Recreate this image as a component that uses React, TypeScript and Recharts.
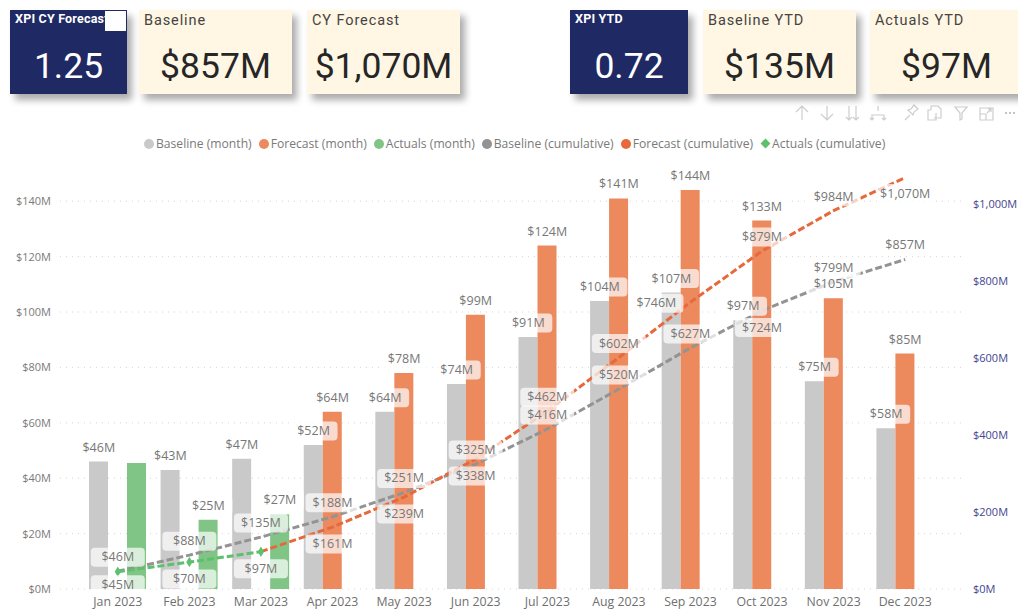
import {
  Bar,
  CartesianGrid,
  ComposedChart,
  LabelList,
  Line,
  Symbols,
  XAxis,
  YAxis,
} from "recharts";

const months = ["Jan 2023", "Feb 2023", "Mar 2023", "Apr 2023", "May 2023", "Jun 2023", "Jul 2023", "Aug 2023", "Sep 2023", "Oct 2023", "Nov 2023", "Dec 2023"];
const baselineMonth = [46, 43, 47, 52, 64, 74, 91, 104, 107, 97, 75, 58];
const forecastMonth = [null, null, null, 64, 78, 99, 124, 141, 144, 133, 105, 85];
const actualsMonth = [45.5, 25, 27, null, null, null, null, null, null, null, null, null];
const baselineCum = [46, 88, 135, 188, 251, 325, 416, 520, 627, 724, 799, 857];
const forecastCum = [null, null, 97, 161, 239, 338, 462, 602, 746, 879, 984, 1070];
const actualsCum = [45, 70, 97, null, null, null, null, null, null, null, null, null];

const leftTicks = [0, 20, 40, 60, 80, 100, 120, 140];
const rightTicks = [0, 200, 400, 600, 800, 1000];

const data = months.map((month, i) => ({
  month,
  baselineMonth: baselineMonth[i],
  forecastMonth: forecastMonth[i],
  actualsMonth: actualsMonth[i],
  baselineCum: baselineCum[i],
  forecastCum: forecastCum[i],
  actualsCum: actualsCum[i],
}));

const FONT = "'Open Sans', sans-serif";
const GRAY_BAR = "#c9c9c9";
const ORANGE_BAR = "#ec8a5e";
const GREEN_BAR = "#80c586";
const GRAY_LINE = "#939393";
const ORANGE_LINE = "#e7683a";
const GREEN_LINE = "#5cc06c";
const SLOT = 19;

const legendItems = [
  { name: "Baseline (month)", color: GRAY_BAR },
  { name: "Forecast (month)", color: ORANGE_BAR },
  { name: "Actuals (month)", color: GREEN_BAR },
  { name: "Baseline (cumulative)", color: GRAY_LINE },
  { name: "Forecast (cumulative)", color: ORANGE_LINE },
  { name: "Actuals (cumulative)", color: GREEN_LINE, diamond: true },
];

const formatMoney = (v: number) => `$${v.toLocaleString("en-US")}M`;

// label with a see-through box, like Power BI's label background
function boxLabel(opts: { dx?: number; boxWidth?: number; skip?: number; place?: (i: number) => [number, number] }) {
  return (props: any) => {
    const { x, y, value, index } = props;
    if (value == null || y == null || index === opts.skip) return null;
    const [ox, oy] = opts.place ? opts.place(index) : [0, -14];
    const cx = x + (opts.dx ?? 0) + ox;
    const cy = y + oy;
    const text = formatMoney(value);
    const w = opts.boxWidth ?? (text.length > 4 ? 55 : 48);
    return (
      <g>
        <rect x={cx - w / 2} y={cy - 9.5} width={w} height={19} rx={4} fill="#fff" fillOpacity={0.7} />
        <text x={cx} y={cy + 4} textAnchor="middle" fontFamily={FONT} fontSize={12.5} fill="#777">
          {text}
        </text>
      </g>
    );
  };
}

const placeBaselineCum = (i: number): [number, number] => (i === 9 ? [0, 17] : [0, -14]);
const placeForecastCum = (i: number): [number, number] => {
  if (i === 8) return [-34, 1];
  if (i === 11) return [0, 16];
  return i <= 5 ? [0, 17] : [0, -14];
};
const placeActualsCum = (i: number): [number, number] => (i === 0 ? [0, 13] : [0, 17]);

function Card({ left, width, title, value, dark }: { left: number; width: number; title: string; value: string; dark?: boolean }) {
  return (
    <div
      style={{
        position: "absolute",
        left,
        top: 10,
        width,
        height: 84,
        background: dark ? "#1f2963" : "#fff6e3",
        boxShadow: "5px 6px 7px rgba(0,0,0,0.33)",
        color: dark ? "#fff" : "#262626",
        fontFamily: "Roboto, sans-serif",
      }}
    >
      <div
        style={{
          position: "absolute",
          left: 5,
          top: dark ? 1 : 2,
          fontSize: dark ? 12.5 : 14.5,
          fontWeight: dark ? 700 : 400,
          letterSpacing: dark ? 0.2 : 0.9,
          color: dark ? "#fff" : "#444",
          whiteSpace: "nowrap",
        }}
      >
        {title}
      </div>
      <div style={{ position: "absolute", left: 0, right: 0, top: 34, textAlign: "center", fontSize: 35.5, lineHeight: "44px" }}>
        {value}
      </div>
    </div>
  );
}

function Toolbar() {
  const s = { fill: "none", stroke: "#cdcdcd", strokeWidth: 1.2 };
  return (
    <svg width={233} height={30} style={{ position: "absolute", left: 785, top: 98 }}>
      <g {...s}>
        <path d="M17 22V8M11 14l6-6 6 6" />
        <path d="M42 8v14M36 16l6 6 6-6" />
        <path d="M64 8v14M61 19l3 3 3-3M71 8v14M68 19l3 3 3-3" />
        <path d="M93 8v5M87 22v-5h12v5M85 20l2 2 2-2M97 20l2 2 2-2" />
        <path d="M120 22l5-5M123 12l5 5 1-3 4-3-4-4-3 4z" />
        <path d="M146 8h7l3 3v9h-7M146 8v4M146 12h-3v10h8v-7" />
        <path d="M170 9h12l-5 6v6l-2 1v-7z" />
        <path d="M195 10h13v12h-13zM195 16h6v6M202 15l4-4M203 11h3v3" />
      </g>
      <g fill="#b0b0b0">
        <circle cx={221} cy={15} r={1} />
        <circle cx={225} cy={15} r={1} />
        <circle cx={229} cy={15} r={1} />
      </g>
    </svg>
  );
}

function Legend() {
  return (
    <div
      style={{
        position: "absolute",
        left: 144,
        top: 135,
        display: "flex",
        gap: 7,
        fontFamily: FONT,
        fontSize: 12.15,
        lineHeight: "17px",
        color: "#7a7a7a",
        whiteSpace: "nowrap",
      }}
    >
      {legendItems.map((item) => (
        <div key={item.name} style={{ display: "flex", alignItems: "center", gap: 2 }}>
          <span
            style={{
              width: item.diamond ? 7 : 10,
              height: item.diamond ? 7 : 10,
              margin: item.diamond ? "0 1.5px" : 0,
              background: item.color,
              borderRadius: item.diamond ? 0 : "50%",
              transform: item.diamond ? "rotate(45deg)" : undefined,
            }}
          />
          {item.name}
        </div>
      ))}
    </div>
  );
}

const renderDiamond = (props: any) => {
  const { cx, cy, key } = props;
  if (cy == null) return <g key={key} />;
  return <Symbols key={key} type="diamond" size={32} cx={cx} cy={cy} fill={GREEN_LINE} />;
};

export default function App() {
  return (
    <div style={{ position: "absolute", left: 0, top: 0, width: 1018, height: 609, background: "#fff", overflow: "hidden" }}>
      <div style={{ position: "absolute", left: 0, top: 0 }}>
        <ComposedChart
          width={1018}
          height={609}
          data={data}
          barSize={SLOT}
          barGap={0}
          margin={{ top: 173.5, right: 0, bottom: 0, left: 0 }}
        >
          <CartesianGrid
            yAxisId="left"
            vertical={false}
            horizontalValues={leftTicks}
            stroke="#d4d4d4"
            strokeDasharray="1 5"
          />
          <XAxis
            dataKey="month"
            height={20}
            padding={{ left: 22, right: 22 }}
            axisLine={false}
            tickLine={false}
            interval={0}
            tickMargin={2}
            tick={{ fill: "#6f6f6f", fontSize: 12.3, fontFamily: FONT }}
          />
          <YAxis
            yAxisId="left"
            width={60}
            domain={[0, 150]}
            ticks={leftTicks}
            tickFormatter={formatMoney}
            axisLine={false}
            tickLine={false}
            tickMargin={3}
            tick={{ fill: "#7a7a7a", fontSize: 11, fontFamily: FONT }}
          />
          <YAxis
            yAxisId="right"
            orientation="right"
            width={55}
            domain={[0, 1080.6]}
            ticks={rightTicks}
            tickFormatter={formatMoney}
            axisLine={false}
            tickLine={false}
            tickMargin={4}
            tick={{ fill: "#45458f", fontSize: 11, fontFamily: FONT }}
          />

          <Bar yAxisId="left" dataKey="baselineMonth" fill={GRAY_BAR} isAnimationActive={false} />
          <Bar yAxisId="left" dataKey="forecastMonth" fill={ORANGE_BAR} isAnimationActive={false} />
          <Bar yAxisId="left" dataKey="actualsMonth" fill={GREEN_BAR} isAnimationActive={false} />

          <Line yAxisId="right" dataKey="baselineCum" stroke={GRAY_LINE} strokeWidth={3} strokeDasharray="7 3" dot={false} isAnimationActive={false} />
          <Line yAxisId="right" dataKey="forecastCum" stroke={ORANGE_LINE} strokeWidth={3} strokeDasharray="7 3" dot={false} isAnimationActive={false} />
          <Line yAxisId="right" dataKey="actualsCum" stroke={GREEN_LINE} strokeWidth={3} strokeDasharray="7 3" dot={renderDiamond} isAnimationActive={false} />

          {/* invisible series that only carry the labels, so boxes sit on top of every mark */}
          <Line yAxisId="left" dataKey="baselineMonth" stroke="none" dot={false} isAnimationActive={false}>
            <LabelList dataKey="baselineMonth" content={boxLabel({ dx: -SLOT })} />
          </Line>
          <Line yAxisId="left" dataKey="forecastMonth" stroke="none" dot={false} isAnimationActive={false}>
            <LabelList dataKey="forecastMonth" content={boxLabel({})} />
          </Line>
          <Line yAxisId="left" dataKey="actualsMonth" stroke="none" dot={false} isAnimationActive={false}>
            <LabelList dataKey="actualsMonth" content={boxLabel({ dx: SLOT, skip: 0 })} />
          </Line>
          <Line yAxisId="right" dataKey="baselineCum" stroke="none" dot={false} isAnimationActive={false}>
            <LabelList dataKey="baselineCum" content={boxLabel({ boxWidth: 54, place: placeBaselineCum })} />
          </Line>
          <Line yAxisId="right" dataKey="forecastCum" stroke="none" dot={false} isAnimationActive={false}>
            <LabelList dataKey="forecastCum" content={boxLabel({ boxWidth: 54, skip: 2, place: placeForecastCum })} />
          </Line>
          <Line yAxisId="right" dataKey="actualsCum" stroke="none" dot={false} isAnimationActive={false}>
            <LabelList dataKey="actualsCum" content={boxLabel({ boxWidth: 54, place: placeActualsCum })} />
          </Line>
        </ComposedChart>
      </div>

      <Legend />
      <Toolbar />

      <Card left={10} width={117} title="XPI CY Forecast" value="1.25" dark />
      <div style={{ position: "absolute", left: 105, top: 11, width: 21, height: 20, background: "#fff" }} />
      <Card left={139} width={153} title="Baseline" value="$857M" />
      <Card left={307} width={153} title="CY Forecast" value="$1,070M" />
      <Card left={570} width={118} title="XPI YTD" value="0.72" dark />
      <Card left={703} width={153} title="Baseline YTD" value="$135M" />
      <Card left={870} width={153} title="Actuals YTD" value="$97M" />
    </div>
  );
}
